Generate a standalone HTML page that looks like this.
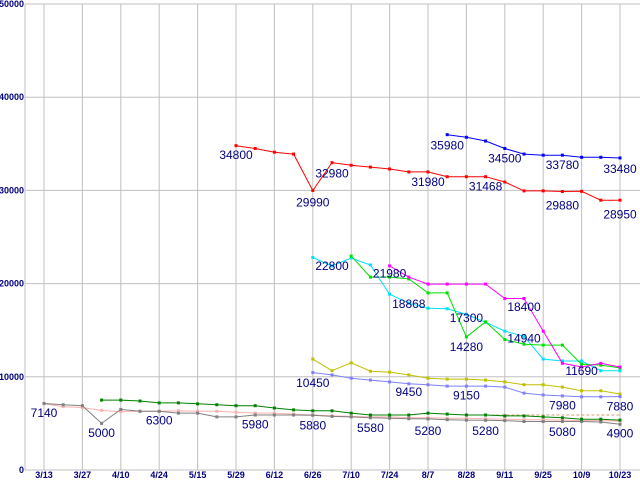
<!DOCTYPE html>
<html><head><meta charset="utf-8"><style>
html,body{margin:0;padding:0;background:#fff;}
svg{display:block;font-family:"Liberation Sans",sans-serif;}
</style></head><body>
<svg id="chart" width="640" height="480" viewBox="0 0 640 480" xmlns="http://www.w3.org/2000/svg"></svg>
<script>
const xTickLabels = ["3/13","3/27","4/10","4/24","5/15","5/29","6/12","6/26","7/10","7/24","8/7","8/28","9/11","9/25","10/9","10/23"];
const yTicks = [0,10000,20000,30000,40000,50000];
const grayVals = [7140,7000,6900,5000,6500,6300,6300,6100,6100,5700,5700,5900,5900,5900,5880,5750,5700,5600,5560,5500,5480,5400,5350,5330,5300,5200,5200,5200,5200,5150,4900];
const pinkVals = [7100,6800,6700,6400,6250,6300,6300,6350,6300,6300,6200,6100,6100,6000,5900,5800,5750,5700,5700,5600,5600,5550,5550,5500,5450,5400,5400,5350,5300,5300,5250];
const tanStart = 22;
const tanVals = [5900,5900,5900,5900,5900,5900,5900,5900,5900];
const dgreenStart = 3;
const dgreenVals = [7500,7500,7400,7200,7200,7100,7000,6900,6900,6650,6450,6350,6350,6100,5900,5900,5900,6100,6000,5900,5900,5800,5800,5700,5600,5450,5450,5350];
const oliveStart = 14;
const oliveVals = [11900,10650,11500,10600,10500,10200,9850,9750,9750,9650,9450,9150,9150,8900,8500,8500,8150];
const periStart = 14;
const periVals = [10450,10200,9850,9650,9450,9250,9150,9000,9000,9000,8900,8250,8050,7950,7850,7850,7880];
const redStart = 10;
const redVals = [34800,34500,34100,33900,29990,32980,32700,32500,32300,31980,31980,31468,31468,31468,30900,29950,29950,29880,29900,28950,28950];
const blueStart = 21;
const blueVals = [35980,35700,35300,34500,33900,33780,33780,33550,33550,33480];
const cyanStart = 14;
const cyanVals = [22800,21900,22750,22000,18868,17900,17350,17300,16700,15850,14900,14350,11900,11700,11700,10650,10650];
const greenStart = 16;
const greenVals = [22950,20700,20700,20500,19000,19000,14280,15900,14000,13500,13400,13400,11350,11250,10950];
const magStart = 18;
const magVals = [21900,20700,19950,19950,19950,19950,18400,18400,14900,11450,11050,11450,11050];
const labelTexts = ["34800","29990","32980","31980","31468","29880","28950","35980","34500","33780","33480","22800","21980","18868","17300","18400","14280","14940","11690","10450","9450","9150","7980","7880","5880","5580","5280","5280","5080","4900","7140","5000","6300","5980"];
const labelIdx = [10,14,15,20,23,27,30,21,24,27,30,15,18,19,22,25,22,25,28,14,19,22,27,30,14,17,20,23,27,30,0,3,6,11];
const labelVals = [33800,28700,31800,30900,30400,28400,27400,34800,33400,32700,32300,21900,21100,17800,16300,17500,13200,14100,10600,9350,8350,8000,6900,6800,4800,4500,4200,4200,4100,3900,6100,3950,5300,4900];

const NS="http://www.w3.org/2000/svg";
const svg=document.getElementById('chart');
const L=25,T=4,B=470,X0=44,X1=620,R=640;
const xAt=i=>X0+i*(X1-X0)/30;
const yAt=v=>B-v*(B-T)/50000;
function mk(tag,attrs){const e=document.createElementNS(NS,tag);for(const k in attrs)e.setAttribute(k,attrs[k]);svg.appendChild(e);return e;}

yTicks.forEach((v,k)=>{
  const g=mk('line',{x1:L,x2:R,y1:yAt(v),y2:yAt(v),stroke:'#c0c0c0','stroke-width':1});
  
  
  const t=mk('text',{x:L-1,y:yAt(v)+3,'text-anchor':'end','font-size':9,'font-weight':'bold',fill:'#000080'});
  t.textContent=v;
  
  
});
const ax=mk('line',{x1:L,x2:L,y1:T,y2:B,stroke:'#c0c0c0','stroke-width':1});


xTickLabels.forEach((s,k)=>{
  const x=xAt(k*2);
  const g=mk('line',{x1:x,x2:x,y1:T,y2:B,stroke:'#c0c0c0','stroke-width':1});
  
  
  const t=mk('text',{x:x,y:478,'text-anchor':'middle','font-size':9,'font-weight':'bold',fill:'#000080'});
  t.textContent=s;
  
  
});

function series(vals,start,color,name,dash,noMarkers){
  const pts=vals.map((v,j)=>xAt(start+j).toFixed(1)+','+yAt(v).toFixed(1)).join(' ');
  const p=mk('polyline',{points:pts,fill:'none',stroke:color,'stroke-width':1});
  if(dash)p.setAttribute('stroke-dasharray',dash);
  
  
  if(noMarkers)return;
  vals.forEach((v,j)=>{
    const r=mk('rect',{x:xAt(start+j)-1.5,y:yAt(v)-1.5,width:3,height:3,fill:color});
    
    
  });
}
series(tanVals,tanStart,'#d0a070','tan-series','3,2',true);
series(pinkVals,0,'#ffb0b0','pink-series');
series(grayVals,0,'#808080','gray-series');
series(dgreenVals,dgreenStart,'#008000','darkgreen-series');
series(oliveVals,oliveStart,'#c0c000','olive-series');
series(periVals,periStart,'#8080ff','periwinkle-series');
series(cyanVals,cyanStart,'#00e0ff','cyan-series');
series(greenVals,greenStart,'#00e000','green-series');
series(magVals,magStart,'#ff00ff','magenta-series');
series(redVals,redStart,'#ff0000','red-series');
series(blueVals,blueStart,'#0000ff','blue-series');

labelTexts.forEach((s,k)=>{
  const t=mk('text',{x:xAt(labelIdx[k]),y:yAt(labelVals[k])+4,'text-anchor':'middle','font-size':12,fill:'#000080'});
  t.textContent=s;
  
  
});
</script>
</body></html>
